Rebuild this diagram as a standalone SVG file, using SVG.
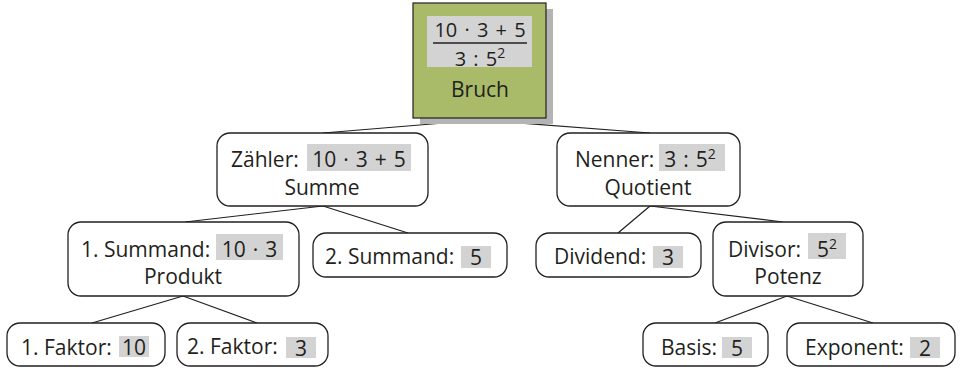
<svg xmlns="http://www.w3.org/2000/svg" width="962" height="369" viewBox="0 0 962 369">
<style>
text{font-family:"Open Sans","Liberation Sans",sans-serif;font-size:21px;fill:#231f20}
.m{text-anchor:middle}
.v{word-spacing:1.5px}
.f{font-size:20px;word-spacing:2px}
.box{fill:#fff;stroke:#231f20;stroke-width:1.3}
.hl{fill:#d3d3d3}
.ln{stroke:#231f20;stroke-width:1.2;fill:none}
.sup{font-size:14px}
</style>
<rect width="962" height="369" fill="#fff"/>
<g id="connectors">
<path class="ln" d="M480 120L323 133M480 120L650 133M323 206L185 222M323 206L408 233M650 206L618 233M650 206L783 222M183 296L92 323M183 296L257 323M787 296L715 323M787 296L873 323"/>
</g>
<g id="bruch">
<rect x="420" y="9" width="133" height="115" fill="#b4b4b4"/>
<rect x="413" y="3" width="133" height="115" fill="#a9bb69" stroke="#231f20" stroke-width="1.2"/>
<rect class="hl" x="427" y="16" width="105" height="51"/>
<text class="m f" x="480" y="37">10 · 3 + 5</text>
<line x1="433" y1="43" x2="527" y2="43" stroke="#231f20" stroke-width="1.3"/>
<text class="m f" x="480" y="65.5">3 : 5<tspan class="sup" dy="-8">2</tspan></text>
<text class="m" x="480" y="97">Bruch</text>
</g>
<g id="zaehler">
<rect class="box" x="217" y="133" width="211" height="73" rx="13"/>
<rect class="hl" x="307" y="144" width="104" height="27"/>
<text x="231" y="167">Zähler:</text>
<text class="m v" x="359" y="167">10 · 3 + 5</text>
<text class="m" x="322" y="195">Summe</text>
</g>
<g id="nenner">
<rect class="box" x="557" y="133" width="183" height="73" rx="13"/>
<rect class="hl" x="659" y="144" width="66" height="27"/>
<text x="575" y="167">Nenner:</text>
<text class="m v" x="690" y="167">3 : 5<tspan class="sup" dy="-8">2</tspan></text>
<text class="m" x="648" y="195">Quotient</text>
</g>
<g id="summand1">
<rect class="box" x="68" y="222" width="231" height="74" rx="13"/>
<rect class="hl" x="216" y="234" width="67" height="26"/>
<text x="81" y="257">1. Summand:</text>
<text class="m v" x="249.5" y="257">10 · 3</text>
<text class="m" x="183" y="284">Produkt</text>
</g>
<g id="summand2">
<rect class="box" x="313" y="233" width="194" height="44" rx="13"/>
<rect class="hl" x="461" y="246" width="30" height="22"/>
<text x="325" y="264">2. Summand:</text>
<text class="m" x="476" y="265">5</text>
</g>
<g id="dividend">
<rect class="box" x="536" y="233" width="165" height="44" rx="13"/>
<rect class="hl" x="653" y="246" width="30" height="22"/>
<text x="554" y="264">Dividend:</text>
<text class="m" x="668" y="265">3</text>
</g>
<g id="divisor">
<rect class="box" x="713" y="222" width="150" height="74" rx="13"/>
<rect class="hl" x="808" y="233" width="38" height="26"/>
<text x="728" y="257">Divisor:</text>
<text class="m" x="827" y="257">5<tspan class="sup" dy="-8">2</tspan></text>
<text class="m" x="788" y="284">Potenz</text>
</g>
<g id="faktor1">
<rect class="box" x="7" y="323" width="158" height="43" rx="13"/>
<rect class="hl" x="119" y="336" width="30" height="21"/>
<text x="21" y="355">1. Faktor:</text>
<text class="m" x="134" y="355">10</text>
</g>
<g id="faktor2">
<rect class="box" x="177" y="323" width="151" height="43" rx="13"/>
<rect class="hl" x="286" y="337" width="30" height="21"/>
<text x="187" y="354">2. Faktor:</text>
<text class="m" x="301" y="356">3</text>
</g>
<g id="basis">
<rect class="box" x="643" y="323" width="125" height="43" rx="13"/>
<rect class="hl" x="722" y="337" width="30" height="21"/>
<text x="661" y="355">Basis:</text>
<text class="m" x="737" y="356">5</text>
</g>
<g id="exponent">
<rect class="box" x="787" y="323" width="168" height="43" rx="13"/>
<rect class="hl" x="910" y="337" width="30" height="21"/>
<text x="805" y="355">Exponent:</text>
<text class="m" x="925" y="356">2</text>
</g>
</svg>
